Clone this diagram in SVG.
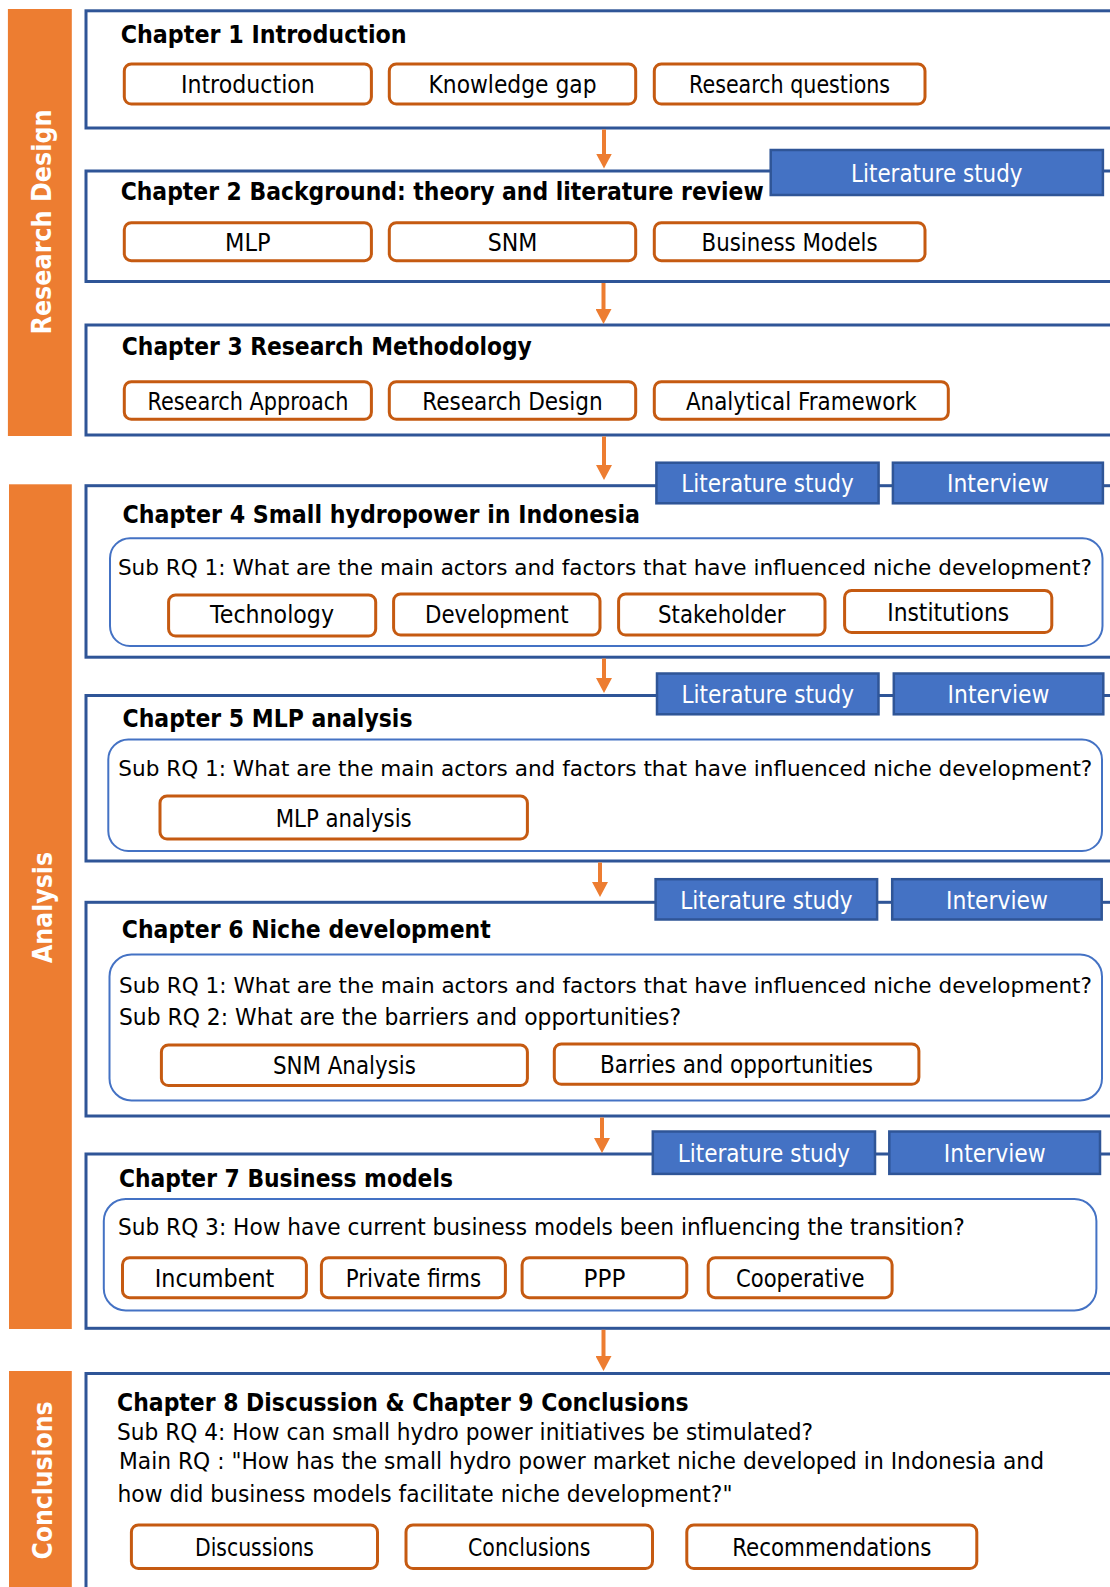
<svg xmlns="http://www.w3.org/2000/svg" width="1110" height="1587" viewBox="0 0 1110 1587">
  <style>
    text { font-family: "DejaVu Sans", "Liberation Sans", sans-serif; fill: #000; }
    .band { fill: #ED7D31; }
    .band-label { font-size: 27px; font-weight: bold; fill: #fff; text-anchor: middle; }
    .chapter { fill: #fff; stroke: #2F5597; stroke-width: 3; }
    .title { font-size: 25px; font-weight: bold; }
    .btn { fill: #fff; stroke: #C55A11; stroke-width: 3; }
    .btn-text { font-size: 25px; text-anchor: middle; }
    .method { fill: #4472C4; stroke: #2F5597; stroke-width: 2.5; }
    .method-text { font-size: 24px; fill: #fff; text-anchor: middle; }
    .rq { fill: #fff; stroke: #4472C4; stroke-width: 2; }
    .rq-text { font-size: 23px; }
    .rq-long { font-size: 22px; }
    .flow { stroke: #ED7D31; stroke-width: 4; fill: none; marker-end: url(#head); }
  </style>
  <defs>
    <marker id="head" markerUnits="userSpaceOnUse" viewBox="0 0 15 16" markerWidth="15" markerHeight="16" refX="3" refY="8" orient="auto">
      <path d="M0,0 L15,8 L0,16 z" fill="#ED7D31"/>
    </marker>
  </defs>

  <rect width="1110" height="1587" fill="#fff"/>

  <!-- phase bands on the left -->
  <g id="band-research-design">
    <rect class="band" x="7.9" y="9" width="63.9" height="427"/>
    <text class="band-label" transform="translate(51,222) rotate(-90)" textLength="225" lengthAdjust="spacingAndGlyphs">Research Design</text>
  </g>
  <g id="band-analysis">
    <rect class="band" x="9" y="484.3" width="62.8" height="844.7"/>
    <text class="band-label" transform="translate(52,907.5) rotate(-90)" textLength="111" lengthAdjust="spacingAndGlyphs">Analysis</text>
  </g>
  <g id="band-conclusions">
    <rect class="band" x="9" y="1371" width="62.8" height="230"/>
    <text class="band-label" transform="translate(52,1480.5) rotate(-90)" textLength="158" lengthAdjust="spacingAndGlyphs">Conclusions</text>
  </g>

  <!-- Chapter 1 -->
  <g id="chapter-1">
    <rect class="chapter" x="86" y="10.8" width="1040" height="117.2"/>
    <text class="title" x="120.7" y="42.5" textLength="286" lengthAdjust="spacingAndGlyphs">Chapter 1 Introduction</text>
    <g id="ch1-introduction">
      <rect class="btn" x="124.3" y="64" width="247.1" height="40" rx="7"/>
      <text class="btn-text" x="247.9" y="93" textLength="134" lengthAdjust="spacingAndGlyphs">Introduction</text>
    </g>
    <g id="ch1-knowledge-gap">
      <rect class="btn" x="389.3" y="64" width="246.4" height="40" rx="7"/>
      <text class="btn-text" x="512.5" y="93" textLength="168" lengthAdjust="spacingAndGlyphs">Knowledge gap</text>
    </g>
    <g id="ch1-research-questions">
      <rect class="btn" x="654.3" y="64" width="270.7" height="40" rx="7"/>
      <text class="btn-text" x="789.6" y="93" textLength="201" lengthAdjust="spacingAndGlyphs">Research questions</text>
    </g>
  </g>

  <!-- Chapter 2 -->
  <g id="chapter-2">
    <rect class="chapter" x="86" y="171" width="1040" height="110.5"/>
    <g id="ch2-literature-study">
      <rect class="method" x="770.7" y="150" width="332.2" height="45"/>
      <text class="method-text" x="936.8" y="181.5" textLength="171.4" lengthAdjust="spacingAndGlyphs">Literature study</text>
    </g>
    <text class="title" x="120.7" y="200" textLength="643" lengthAdjust="spacingAndGlyphs">Chapter 2 Background: theory and literature review</text>
    <g id="ch2-mlp">
      <rect class="btn" x="124.3" y="222.7" width="247.1" height="38" rx="7"/>
      <text class="btn-text" x="247.9" y="250.7" textLength="45.6" lengthAdjust="spacingAndGlyphs">MLP</text>
    </g>
    <g id="ch2-snm">
      <rect class="btn" x="389.3" y="222.7" width="246.4" height="38" rx="7"/>
      <text class="btn-text" x="512.5" y="250.7" textLength="49.6" lengthAdjust="spacingAndGlyphs">SNM</text>
    </g>
    <g id="ch2-business-models">
      <rect class="btn" x="654.3" y="222.7" width="270.7" height="38" rx="7"/>
      <text class="btn-text" x="789.6" y="250.7" textLength="176" lengthAdjust="spacingAndGlyphs">Business Models</text>
    </g>
  </g>

  <!-- Chapter 3 -->
  <g id="chapter-3">
    <rect class="chapter" x="86" y="325" width="1040" height="110"/>
    <text class="title" x="121.8" y="355" textLength="410" lengthAdjust="spacingAndGlyphs">Chapter 3 Research Methodology</text>
    <g id="ch3-research-approach">
      <rect class="btn" x="124.3" y="381.7" width="247.1" height="37.6" rx="7"/>
      <text class="btn-text" x="247.9" y="409.5" textLength="201" lengthAdjust="spacingAndGlyphs">Research Approach</text>
    </g>
    <g id="ch3-research-design">
      <rect class="btn" x="389.3" y="381.7" width="246.4" height="37.6" rx="7"/>
      <text class="btn-text" x="512.5" y="409.5" textLength="180.5" lengthAdjust="spacingAndGlyphs">Research Design</text>
    </g>
    <g id="ch3-analytical-framework">
      <rect class="btn" x="654.3" y="381.7" width="294" height="37.6" rx="7"/>
      <text class="btn-text" x="801.3" y="409.5" textLength="230.8" lengthAdjust="spacingAndGlyphs">Analytical Framework</text>
    </g>
  </g>

  <!-- Chapter 4 -->
  <g id="chapter-4">
    <rect class="chapter" x="86" y="485.7" width="1040" height="171.5"/>
    <g id="ch4-literature-study">
      <rect class="method" x="656.4" y="462.7" width="222.2" height="40.6"/>
      <text class="method-text" x="767.5" y="492" textLength="172.5" lengthAdjust="spacingAndGlyphs">Literature study</text>
    </g>
    <g id="ch4-interview">
      <rect class="method" x="892.9" y="462.7" width="210" height="40.6"/>
      <text class="method-text" x="997.9" y="492" textLength="101.8" lengthAdjust="spacingAndGlyphs">Interview</text>
    </g>
    <text class="title" x="122.5" y="523.3" textLength="517.5" lengthAdjust="spacingAndGlyphs">Chapter 4 Small hydropower in Indonesia</text>
    <rect class="rq" x="110" y="538.3" width="992.5" height="107.7" rx="20"/>
    <text class="rq-long" x="117.9" y="575" textLength="974" lengthAdjust="spacingAndGlyphs">Sub RQ 1: What are the main actors and factors that have influenced niche development?</text>
    <g id="ch4-technology">
      <rect class="btn" x="168.6" y="595" width="207.1" height="41" rx="7"/>
      <text class="btn-text" x="272" y="623" textLength="124" lengthAdjust="spacingAndGlyphs">Technology</text>
    </g>
    <g id="ch4-development">
      <rect class="btn" x="393.6" y="594" width="206.4" height="41" rx="7"/>
      <text class="btn-text" x="496.8" y="623" textLength="143.6" lengthAdjust="spacingAndGlyphs">Development</text>
    </g>
    <g id="ch4-stakeholder">
      <rect class="btn" x="618.6" y="594" width="206.4" height="41" rx="7"/>
      <text class="btn-text" x="721.8" y="623" textLength="127.5" lengthAdjust="spacingAndGlyphs">Stakeholder</text>
    </g>
    <g id="ch4-institutions">
      <rect class="btn" x="844.6" y="590.5" width="207.2" height="42" rx="7"/>
      <text class="btn-text" x="948.2" y="620.5" textLength="122" lengthAdjust="spacingAndGlyphs">Institutions</text>
    </g>
  </g>

  <!-- Chapter 5 -->
  <g id="chapter-5">
    <rect class="chapter" x="86" y="695.5" width="1040" height="165.5"/>
    <g id="ch5-literature-study">
      <rect class="method" x="657" y="673.5" width="221.5" height="40.8"/>
      <text class="method-text" x="767.8" y="703" textLength="172.5" lengthAdjust="spacingAndGlyphs">Literature study</text>
    </g>
    <g id="ch5-interview">
      <rect class="method" x="893.8" y="673.5" width="209.5" height="40.8"/>
      <text class="method-text" x="998.5" y="703" textLength="101.8" lengthAdjust="spacingAndGlyphs">Interview</text>
    </g>
    <text class="title" x="122.5" y="727.3" textLength="290" lengthAdjust="spacingAndGlyphs">Chapter 5 MLP analysis</text>
    <rect class="rq" x="108.3" y="739.5" width="993.7" height="111.5" rx="20"/>
    <text class="rq-long" x="118.3" y="775.5" textLength="974" lengthAdjust="spacingAndGlyphs">Sub RQ 1: What are the main actors and factors that have influenced niche development?</text>
    <g id="ch5-mlp-analysis">
      <rect class="btn" x="160" y="796" width="367.4" height="43" rx="7"/>
      <text class="btn-text" x="343.7" y="826.5" textLength="136" lengthAdjust="spacingAndGlyphs">MLP analysis</text>
    </g>
  </g>

  <!-- Chapter 6 -->
  <g id="chapter-6">
    <rect class="chapter" x="86" y="902.3" width="1040" height="213.7"/>
    <g id="ch6-literature-study">
      <rect class="method" x="655.6" y="879.2" width="221.5" height="40.3"/>
      <text class="method-text" x="766.4" y="908.5" textLength="172.5" lengthAdjust="spacingAndGlyphs">Literature study</text>
    </g>
    <g id="ch6-interview">
      <rect class="method" x="892.2" y="879.2" width="209.5" height="40.3"/>
      <text class="method-text" x="997" y="908.5" textLength="101.8" lengthAdjust="spacingAndGlyphs">Interview</text>
    </g>
    <text class="title" x="121.8" y="938.3" textLength="369" lengthAdjust="spacingAndGlyphs">Chapter 6 Niche development</text>
    <rect class="rq" x="109.5" y="954.5" width="992.5" height="146" rx="22"/>
    <text class="rq-long" x="119" y="992.8" textLength="973" lengthAdjust="spacingAndGlyphs">Sub RQ 1: What are the main actors and factors that have influenced niche development?</text>
    <text class="rq-text" x="119" y="1025" textLength="562" lengthAdjust="spacingAndGlyphs">Sub RQ 2: What are the barriers and opportunities?</text>
    <g id="ch6-snm-analysis">
      <rect class="btn" x="161.4" y="1045" width="366" height="40.5" rx="7"/>
      <text class="btn-text" x="344.4" y="1074" textLength="143" lengthAdjust="spacingAndGlyphs">SNM Analysis</text>
    </g>
    <g id="ch6-barries">
      <rect class="btn" x="554.3" y="1044" width="364.6" height="40.3" rx="7"/>
      <text class="btn-text" x="736.6" y="1073" textLength="273" lengthAdjust="spacingAndGlyphs">Barries and opportunities</text>
    </g>
  </g>

  <!-- Chapter 7 -->
  <g id="chapter-7">
    <rect class="chapter" x="86" y="1154" width="1040" height="174.3"/>
    <g id="ch7-literature-study">
      <rect class="method" x="652.8" y="1131.5" width="222.2" height="42.4"/>
      <text class="method-text" x="763.9" y="1161.5" textLength="172.5" lengthAdjust="spacingAndGlyphs">Literature study</text>
    </g>
    <g id="ch7-interview">
      <rect class="method" x="889.3" y="1131.5" width="210.7" height="42.4"/>
      <text class="method-text" x="994.7" y="1161.5" textLength="101.8" lengthAdjust="spacingAndGlyphs">Interview</text>
    </g>
    <text class="title" x="118.9" y="1187.3" textLength="334" lengthAdjust="spacingAndGlyphs">Chapter 7 Business models</text>
    <rect class="rq" x="103.8" y="1199" width="992.6" height="111.5" rx="22"/>
    <text class="rq-text" x="117.9" y="1235" textLength="847" lengthAdjust="spacingAndGlyphs">Sub RQ 3: How have current business models been influencing the transition?</text>
    <g id="ch7-incumbent">
      <rect class="btn" x="122.5" y="1257.7" width="183.9" height="40" rx="7"/>
      <text class="btn-text" x="214.5" y="1286.5" textLength="119.6" lengthAdjust="spacingAndGlyphs">Incumbent</text>
    </g>
    <g id="ch7-private-firms">
      <rect class="btn" x="321.4" y="1257.7" width="184" height="40" rx="7"/>
      <text class="btn-text" x="413.4" y="1286.5" textLength="135.4" lengthAdjust="spacingAndGlyphs">Private firms</text>
    </g>
    <g id="ch7-ppp">
      <rect class="btn" x="522.1" y="1257.7" width="164.7" height="40" rx="7"/>
      <text class="btn-text" x="604.5" y="1286.5" textLength="41.8" lengthAdjust="spacingAndGlyphs">PPP</text>
    </g>
    <g id="ch7-cooperative">
      <rect class="btn" x="708.2" y="1257.7" width="183.9" height="40" rx="7"/>
      <text class="btn-text" x="800.2" y="1286.5" textLength="128.6" lengthAdjust="spacingAndGlyphs">Cooperative</text>
    </g>
  </g>

  <!-- Chapters 8 and 9 -->
  <g id="chapter-8-9">
    <rect class="chapter" x="86" y="1373.5" width="1040" height="300"/>
    <text class="title" x="117.1" y="1410.7" textLength="571.5" lengthAdjust="spacingAndGlyphs">Chapter 8 Discussion &amp; Chapter 9 Conclusions</text>
    <text class="rq-text" x="117.1" y="1440" textLength="696" lengthAdjust="spacingAndGlyphs">Sub RQ 4: How can small hydro power initiatives be stimulated?</text>
    <text class="rq-text" x="119" y="1468.5" textLength="925" lengthAdjust="spacingAndGlyphs">Main RQ : "How has the small hydro power market niche developed in Indonesia and</text>
    <text class="rq-text" x="117.5" y="1501.7" textLength="615" lengthAdjust="spacingAndGlyphs">how did business models facilitate niche development?"</text>
    <g id="ch8-discussions">
      <rect class="btn" x="131.4" y="1525" width="246.1" height="43.5" rx="7"/>
      <text class="btn-text" x="254.5" y="1555.5" textLength="119" lengthAdjust="spacingAndGlyphs">Discussions</text>
    </g>
    <g id="ch9-conclusions">
      <rect class="btn" x="406" y="1525" width="246.5" height="43.5" rx="7"/>
      <text class="btn-text" x="529.3" y="1555.5" textLength="122.5" lengthAdjust="spacingAndGlyphs">Conclusions</text>
    </g>
    <g id="ch9-recommendations">
      <rect class="btn" x="686.8" y="1525" width="290" height="43.5" rx="7"/>
      <text class="btn-text" x="831.8" y="1555.5" textLength="199.3" lengthAdjust="spacingAndGlyphs">Recommendations</text>
    </g>
  </g>

  <!-- flow between chapters -->
  <g id="connectors">
    <line class="flow" x1="604" y1="129.5" x2="604" y2="156.5"/>
    <line class="flow" x1="603.5" y1="283" x2="603.5" y2="312"/>
    <line class="flow" x1="604" y1="436.5" x2="604" y2="468"/>
    <line class="flow" x1="604" y1="658.5" x2="604" y2="681"/>
    <line class="flow" x1="600" y1="862.5" x2="600" y2="885"/>
    <line class="flow" x1="602" y1="1117.5" x2="602" y2="1141"/>
    <line class="flow" x1="603.5" y1="1329.8" x2="603.5" y2="1359"/>
  </g>
</svg>
